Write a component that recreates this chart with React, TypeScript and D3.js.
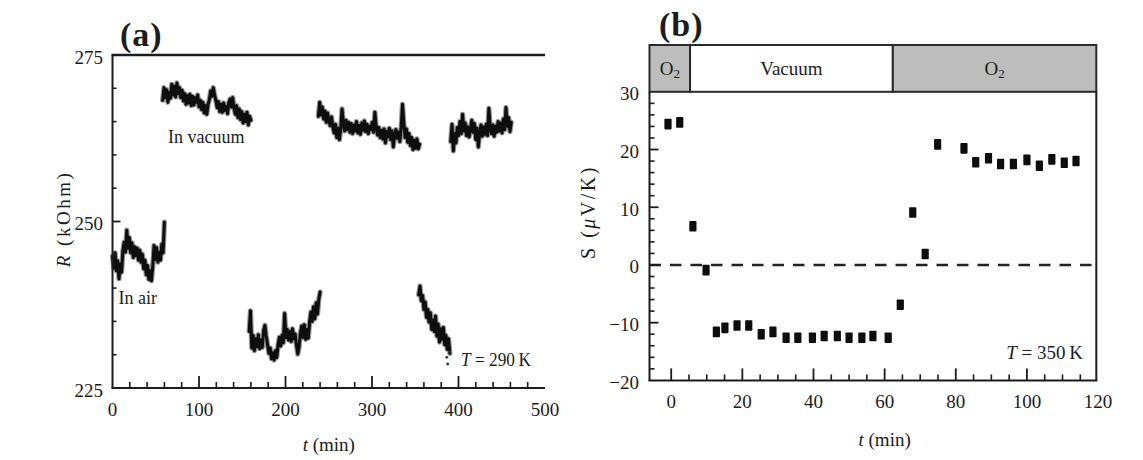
import React from "react";
import * as d3 from "d3";

// ---------- Panel (a): resistance traces R (kOhm) vs t (min) ----------
const aXTicks = [0, 100, 200, 300, 400, 500];
const aYTicks = [225, 250, 275];

const airTrace1Span = [0, 60];
const airTrace1 = [244.8, 243.0, 245.3, 242.6, 244.1, 241.4, 243.6, 242.4, 245.6, 246.9, 245.4, 248.7, 246.0, 247.6, 245.3, 246.8, 244.6, 246.2, 244.9, 246.0, 244.2, 245.7, 243.9, 245.1, 242.9, 244.2, 242.0, 243.4, 241.3, 242.6, 241.1, 243.2, 246.4, 244.3, 246.1, 243.9, 245.4, 244.2, 246.6, 245.3, 249.9];

const vacTrace1Span = [58, 160];
const vacTrace1 = [268.2, 270.1, 268.6, 269.8, 267.9, 269.4, 268.5, 270.6, 269.0, 270.3, 268.7, 270.8, 269.2, 270.1, 268.6, 269.7, 268.1, 269.2, 267.6, 268.9, 267.8, 269.1, 267.4, 268.8, 267.5, 268.6, 267.9, 269.0, 267.2, 268.2, 266.8, 267.9, 266.3, 267.4, 266.1, 267.6, 268.3, 269.6, 268.8, 270.1, 269.0, 268.2, 267.1, 268.0, 266.5, 267.6, 266.4, 267.8, 266.7, 267.3, 266.2, 267.9, 268.4, 267.2, 268.6, 267.0, 266.1, 267.4, 265.6, 266.9, 265.3, 266.5, 264.8, 266.1, 265.0, 266.4, 264.5, 265.8, 265.2];

const airTrace2Span = [158, 240];
const airTrace2 = [233.5, 236.6, 231.0, 232.9, 230.6, 232.4, 231.2, 233.0, 230.9, 232.2, 231.1, 233.6, 234.4, 232.8, 231.5, 230.2, 231.0, 229.4, 230.3, 229.2, 230.6, 229.6, 231.5, 232.6, 231.3, 232.9, 231.8, 236.2, 232.6, 233.8, 232.2, 233.5, 232.0, 233.9, 232.4, 233.1, 231.4, 230.1, 231.2, 233.2, 234.3, 232.6, 234.5, 232.3, 233.8, 232.5, 234.9, 236.4, 235.0, 237.2, 235.4, 237.8, 236.1, 238.3, 239.4];

const vacTrace2Span = [238, 355];
const vacTrace2 = [265.8, 267.9, 266.0, 267.2, 265.4, 266.6, 264.9, 266.3, 265.1, 264.4, 265.7, 264.2, 263.3, 264.6, 262.6, 264.0, 262.3, 263.9, 266.9, 264.8, 263.6, 265.2, 263.8, 264.9, 263.4, 264.7, 263.2, 264.5, 263.6, 265.0, 263.3, 264.4, 263.1, 264.8, 263.7, 265.1, 263.5, 264.6, 263.2, 264.3, 263.8, 264.9, 263.4, 266.4, 264.2, 263.0, 264.1, 262.6, 263.7, 262.4, 263.9, 261.8, 263.5, 262.7, 264.0, 262.3, 263.6, 261.2, 262.9, 263.8, 262.5, 263.4, 262.0, 264.2, 267.6, 264.8, 262.6, 263.9, 261.9, 263.2, 261.4, 262.6, 260.8, 262.2, 261.0, 262.4, 260.9, 261.6];

const airTrace3Span = [354, 390];
const airTrace3 = [239.0, 240.3, 238.1, 238.9, 236.8, 237.9, 235.6, 236.8, 234.9, 236.3, 233.8, 235.2, 233.5, 235.8, 232.8, 234.6, 231.9, 233.9, 232.3, 234.1, 231.5, 232.9, 230.8, 232.4, 230.2];
const airTrace3DotsT = [386.5, 387.5, 389.5];
const airTrace3DotsR = [229.6, 228.6, 230.4];

const vacTrace3Span = [391, 461];
const vacTrace3 = [262.0, 264.6, 260.6, 263.2, 261.8, 264.1, 262.9, 265.0, 263.2, 266.1, 263.6, 264.8, 262.9, 264.2, 262.7, 263.9, 265.2, 263.4, 264.7, 262.3, 264.0, 261.2, 263.3, 264.5, 262.8, 264.2, 263.1, 264.6, 262.9, 267.0, 264.0, 263.2, 264.5, 262.8, 264.3, 263.4, 265.0, 263.6, 264.8, 263.3, 265.4, 263.8, 267.1, 264.3, 265.6, 263.5, 264.9];

// ---------- Panel (b): thermopower S (uV/K) vs t (min) ----------
const bXTicks = [0, 20, 40, 60, 80, 100, 120];
const bYTicks = [-20, -10, 0, 10, 20, 30];
const bTimes = [-0.9, 2.4, 6.1, 9.8, 12.7, 15.1, 18.5, 21.8, 25.3, 28.6, 32.3, 35.6, 39.7, 43.0, 46.7, 50.0, 53.6, 56.7, 61.0, 64.4, 67.9, 71.4, 74.9, 82.3, 85.6, 89.2, 92.6, 96.2, 100.0, 103.5, 107.0, 110.5, 113.8];
const bS = [24.4, 24.7, 6.7, -0.9, -11.6, -10.9, -10.5, -10.5, -12.0, -11.6, -12.6, -12.6, -12.6, -12.3, -12.3, -12.6, -12.6, -12.3, -12.6, -6.9, 9.1, 1.9, 20.9, 20.2, 17.8, 18.5, 17.5, 17.5, 18.2, 17.2, 18.3, 17.7, 18.0];
const bandEdges = [-6.1, 5.3, 62.3, 119.5];
const bandLabels = ["O2", "Vacuum", "O2"];

const FONT = "'Liberation Serif', 'Times New Roman', serif";
const INK = "#1c1c1c";

function range(a: number, b: number, s: number) {
  const out: number[] = [];
  for (let v = a; v <= b + 1e-9; v += s) out.push(+v.toFixed(6));
  return out;
}

export default function App() {
  // scales
  const xA = d3.scaleLinear().domain([0, 500]).range([112.5, 545]);
  const yA = d3.scaleLinear().domain([225, 275]).range([388, 55]);
  const xB = d3.scaleLinear().domain([-6.1, 119.5]).range([649.5, 1096.3]);
  const yB = d3.scaleLinear().domain([-20, 30]).range([380.4, 91.8]);
  const bandTop = 45;

  const traces = [
    { span: airTrace1Span, v: airTrace1 },
    { span: vacTrace1Span, v: vacTrace1 },
    { span: airTrace2Span, v: airTrace2 },
    { span: vacTrace2Span, v: vacTrace2 },
    { span: airTrace3Span, v: airTrace3 },
    { span: vacTrace3Span, v: vacTrace3 },
  ];

  const tracePath = (span: number[], v: number[]) => {
    const step = (span[1] - span[0]) / (v.length - 1);
    return d3
      .line<number>()
      .x((_, i) => xA(span[0] + i * step))
      .y((d) => yA(d))
      .curve(d3.curveLinear)(v) as string;
  };

  const aMinorY = range(230, 270, 5).filter((v) => v !== 250);
  const aMinorX = range(20, 480, 20).filter((v) => v % 100 !== 0);
  const aMajorX = [100, 200, 300, 400];

  const bMinorY = range(-18, 28, 2).filter((v) => v % 10 !== 0);
  const bMajorY = [-10, 0, 10, 20];
  const bMinorX = range(5, 115, 5).filter((v) => v % 20 !== 0);
  const bMajorX = [0, 20, 40, 60, 80, 100];

  const axisW = 2;

  return (
    <svg
      width={1143}
      height={460}
      style={{ position: "absolute", left: 0, top: 0, background: "#fff" }}
      fontFamily={FONT}
    >
      <rect x={0} y={0} width={1143} height={460} fill="#fff" />

      {/* ================= Panel (a) ================= */}
      <text x={120} y={46} fontSize={34} fontWeight="bold" fill={INK} letterSpacing={1}>
        (a)
      </text>

      {/* traces: a wide soft stroke under a darker core gives the fuzzy noisy band */}
      {traces.map((tr, i) => (
        <g key={i}>
          <path
            d={tracePath(tr.span, tr.v)}
            fill="none"
            stroke="#3a3a3a"
            strokeWidth={5.2}
            strokeLinejoin="round"
            strokeLinecap="round"
            opacity={0.55}
          />
          <path
            d={tracePath(tr.span, tr.v)}
            fill="none"
            stroke="#0e0e0e"
            strokeWidth={3}
            strokeLinejoin="round"
            strokeLinecap="round"
          />
        </g>
      ))}
      {airTrace3DotsT.map((t, i) => (
        <circle key={i} cx={xA(t)} cy={yA(airTrace3DotsR[i])} r={1.4} fill="#333" />
      ))}

      {/* axes */}
      <line x1={xA(0)} x2={xA(0)} y1={yA(275)} y2={yA(225)} stroke={INK} strokeWidth={axisW} />
      <line x1={xA(0) - 1} x2={xA(500)} y1={yA(225)} y2={yA(225)} stroke={INK} strokeWidth={axisW} />
      <line x1={xA(0) - 1} x2={xA(500)} y1={yA(275)} y2={yA(275)} stroke={INK} strokeWidth={2.6} />

      {aMinorY.map((v) => (
        <line key={"amy" + v} x1={xA(0)} x2={xA(0) + 4} y1={yA(v)} y2={yA(v)} stroke={INK} strokeWidth={1.6} />
      ))}
      <line x1={xA(0)} x2={xA(0) + 8} y1={yA(250)} y2={yA(250)} stroke={INK} strokeWidth={1.8} />
      {aMinorX.map((v) => (
        <line key={"amx" + v} x1={xA(v)} x2={xA(v)} y1={yA(225)} y2={yA(225) - 6} stroke={INK} strokeWidth={1.6} />
      ))}
      {aMajorX.map((v) => (
        <line key={"aMx" + v} x1={xA(v)} x2={xA(v)} y1={yA(225)} y2={yA(225) - 12} stroke={INK} strokeWidth={1.8} />
      ))}

      {aYTicks.map((v) => (
        <text key={"aty" + v} x={103} y={yA(v) + 2} fontSize={19} textAnchor="end" dominantBaseline="central" fill={INK}>
          {v}
        </text>
      ))}
      {aXTicks.map((v) => (
        <text key={"atx" + v} x={xA(v)} y={yA(225) + 21} fontSize={19} textAnchor="middle" dominantBaseline="central" fill={INK}>
          {v}
        </text>
      ))}

      <text x={xA(0) + 6} y={304} fontSize={18} fill={INK}>In air</text>
      <text x={168} y={143} fontSize={18} fill={INK}>In vacuum</text>
      <text x={461} y={366} fontSize={18} fill={INK} textLength={70} lengthAdjust="spacingAndGlyphs">
        <tspan fontStyle="italic">T</tspan> = 290{"\u2009"}K
      </text>

      <text
        transform={`translate(${63},${219}) rotate(-90)`}
        fontSize={19}
        textAnchor="middle"
        dominantBaseline="central"
        letterSpacing={2.5}
        fill={INK}
      >
        <tspan fontStyle="italic">R</tspan> (kOhm)
      </text>
      <text x={(xA(0) + xA(500)) / 2} y={451} fontSize={19} textAnchor="middle" fill={INK}>
        <tspan fontStyle="italic">t</tspan> (min)
      </text>

      {/* ================= Panel (b) ================= */}
      <text x={659} y={36} fontSize={34} fontWeight="bold" fill={INK} letterSpacing={1}>
        (b)
      </text>

      {/* atmosphere band */}
      {bandLabels.map((lab, i) => {
        const x0 = xB(bandEdges[i]);
        const x1 = xB(bandEdges[i + 1]);
        const gray = lab !== "Vacuum";
        return (
          <g key={"band" + i}>
            <rect x={x0} y={bandTop} width={x1 - x0} height={yB(30) - bandTop} fill={gray ? "#bdbdbd" : "#fff"} stroke="#2a2a2a" strokeWidth={2} />
            <text x={(x0 + x1) / 2} y={(bandTop + yB(30)) / 2} fontSize={19} textAnchor="middle" dominantBaseline="central" fill={INK}>
              {gray ? (
                <>
                  O<tspan fontSize={13} dy={5}>2</tspan>
                </>
              ) : (
                lab
              )}
            </text>
          </g>
        );
      })}

      {/* zero dashed line */}
      <line x1={xB(-6.1)} x2={xB(119.5)} y1={yB(0)} y2={yB(0)} stroke="#222" strokeWidth={2.6} strokeDasharray="11.5 9" />

      {/* data squares */}
      {bTimes.map((t, i) => (
        <rect key={"pt" + i} x={xB(t) - 3.6} y={yB(bS[i]) - 5.3} width={7.2} height={10.6} fill="#0d0d0d" rx={0.8} />
      ))}

      {/* frame */}
      <line x1={xB(-6.1)} x2={xB(-6.1)} y1={yB(30)} y2={yB(-20)} stroke={INK} strokeWidth={axisW} />
      <line x1={xB(119.5)} x2={xB(119.5)} y1={yB(30)} y2={yB(-20)} stroke={INK} strokeWidth={axisW} />
      <line x1={xB(-6.1) - 1} x2={xB(119.5) + 1} y1={yB(-20)} y2={yB(-20)} stroke={INK} strokeWidth={axisW} />

      {bMinorY.map((v) => (
        <line key={"bmy" + v} x1={xB(-6.1)} x2={xB(-6.1) + 5} y1={yB(v)} y2={yB(v)} stroke={INK} strokeWidth={1.6} />
      ))}
      {bMajorY.map((v) => (
        <line key={"bMy" + v} x1={xB(-6.1)} x2={xB(-6.1) + 9} y1={yB(v)} y2={yB(v)} stroke={INK} strokeWidth={1.8} />
      ))}
      {bMinorX.map((v) => (
        <line key={"bmx" + v} x1={xB(v)} x2={xB(v)} y1={yB(-20)} y2={yB(-20) - 6} stroke={INK} strokeWidth={1.6} />
      ))}
      {bMajorX.map((v) => (
        <line key={"bMx" + v} x1={xB(v)} x2={xB(v)} y1={yB(-20)} y2={yB(-20) - 12} stroke={INK} strokeWidth={1.8} />
      ))}

      {bYTicks.map((v) => (
        <text key={"bty" + v} x={639} y={yB(v) + 2} fontSize={19} textAnchor="end" dominantBaseline="central" fill={INK}>
          {v < 0 ? "\u2212" + Math.abs(v) : v}
        </text>
      ))}
      {bXTicks.map((v) => (
        <text key={"btx" + v} x={xB(v)} y={yB(-20) + 21} fontSize={19} textAnchor="middle" dominantBaseline="central" fill={INK}>
          {v}
        </text>
      ))}

      <text x={1083} y={359} fontSize={19} textAnchor="end" fill={INK}>
        <tspan fontStyle="italic">T</tspan> = 350{"\u2009"}K
      </text>

      <text
        transform={`translate(${588},${212}) rotate(-90)`}
        fontSize={20}
        textAnchor="middle"
        dominantBaseline="central"
        letterSpacing={2.5}
        fill={INK}
      >
        S (<tspan fontStyle="italic">μ</tspan>V/K)
      </text>
      <text x={xB(60)} y={446} fontSize={19} textAnchor="middle" fill={INK}>
        <tspan fontStyle="italic">t</tspan> (min)
      </text>
    </svg>
  );
}
